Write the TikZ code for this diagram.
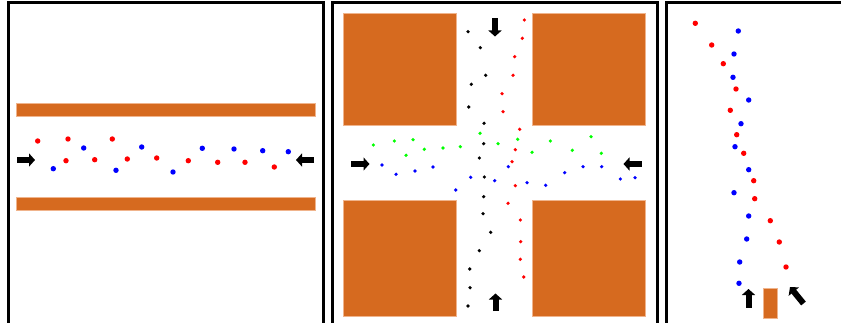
\documentclass[tikz,border=0pt]{standalone}
\usetikzlibrary{arrows.meta}
\definecolor{wall}{RGB}{214,106,31}
\definecolor{wallb}{RGB}{240,180,140}
\definecolor{dred}{RGB}{255,0,0}
\definecolor{dblue}{RGB}{0,0,255}
\definecolor{dgreen}{RGB}{0,255,0}
\tikzset{
  frame/.style={line width=3pt, line cap=butt, line join=miter},
  wallbox/.style={fill=wall, draw=wallb, line width=0.8pt},
  blockarrow/.style={line width=6pt, -{Triangle[length=6pt,width=13pt]}},
  bigdot/.style={radius=2.7pt},
  smalldot/.style={radius=1.8pt},
}
\begin{document}
\begin{tikzpicture}[x=1pt,y=-1pt]
\useasboundingbox (0,0) rectangle (841,323);
\fill[white] (0,0) rectangle (841,323);
% frames
\draw[frame] (8.5,324) -- (8.5,3) -- (323,3) -- (323,324);
\draw[frame] (332,324) -- (332,3) -- (657,3) -- (657,324);
\draw[frame] (666,324) -- (666,3) -- (842,3);

% ---------- panel 1 ----------
\draw[wallbox] (16,103) rectangle (315,116);
\draw[wallbox] (16,197.5) rectangle (315,210.5);
\coordinate (a1t) at (17,160); \coordinate (a1h) at (35,160);
\coordinate (a2t) at (314,160); \coordinate (a2h) at (296,160);
\draw[blockarrow] (a1t) -- (a1h);
\draw[blockarrow] (a2t) -- (a2h);
\foreach \x/\y in {37.7/141,68/139,112.3/139,66/160.7,94.7/159.7,127.3/159,156.7/158,188.3/160.7,217.7/162.3,245/162.3,274.3/167}
  \fill[dred] (\x,\y) circle[bigdot];
\foreach \x/\y in {53.3/168.7,83.7/148,116/170.3,141.7/147,173/172,202.3/148.3,234/149,262.7/150.7,288.3/151.7}
  \fill[dblue] (\x,\y) circle[bigdot];

% ---------- panel 2 ----------
\draw[wallbox] (343.3,13.3) rectangle (456.7,125.7);
\draw[wallbox] (532,13.3) rectangle (645.7,125.7);
\draw[wallbox] (343.3,200.3) rectangle (456.7,316);
\draw[wallbox] (532,200.3) rectangle (645.7,316);
\coordinate (b1t) at (495,18.5); \coordinate (b1h) at (495,36.5);
\coordinate (b2t) at (495.5,311) ; \coordinate (b2h) at (495.5,293.5);
\coordinate (b3t) at (351,164); \coordinate (b3h) at (369.5,164);
\coordinate (b4t) at (641.5,164); \coordinate (b4h) at (623.5,164);
\draw[blockarrow] (b1t) -- (b1h);
\draw[blockarrow] (b2t) -- (b2h);
\draw[blockarrow] (b3t) -- (b3h);
\draw[blockarrow] (b4t) -- (b4h);
\foreach \x/\y in {468/31.7,480.3/47.7,485.7/75.3,471.3/84.3,468.7/107,484/123.3,483.7/143.7,479.3/158,484.3/177,483.7/196.7,483/213.7,490.7/232.3,479.3/250.7,469.7/269,470/287.7,468/306}
  \fill[black] (\x,\y) circle[smalldot];
\foreach \x/\y in {524.3/20,522.3/38.3,514.7/56.7,513/75.3,502/93.7,503/111.7,519.7/129.3,515.3/149.7,512/161.7,515.3/185.7,508/203.3,520.3/220,520.7/241.7,520.3/259.3,523.7/277}
  \fill[dred] (\x,\y) circle[smalldot];
\foreach \x/\y in {373.3/145,394.3/141,413/139.7,406/155.3,424.3/149.3,443/148,460.3/146.7,480/133.3,498/143.7,517.7/139.3,532/152.3,550.3/141,572.3/150.3,591/136.7,601.3/153.3}
  \fill[dgreen] (\x,\y) circle[smalldot];
\foreach \x/\y in {382/165,396/174.3,415/171,433/167,455.7/190,470.7/177.3,494.7/180.7,508.3/166.7,527/182.7,545.7/185.3,564.7/172.7,583/166.7,601.7/166.7,620.3/179,635/177.7}
  \fill[dblue] (\x,\y) circle[smalldot];

% ---------- panel 3 ----------
\draw[wallbox] (763.3,288.3) rectangle (777.3,318);
\coordinate (c1t) at (748.5,307.5); \coordinate (c1h) at (748.5,289);
\coordinate (c2t) at (803.5,303.5); \coordinate (c2h) at (790,287);
\draw[blockarrow] (c1t) -- (c1h);
\draw[blockarrow] (c2t) -- (c2h);
\foreach \x/\y in {695.3/23.3,711.7/45,723.3/63.7,736/89,730.3/110.3,736.7/134.7,743.7/153.3,753.7/180.7,754.7/198.7,770.3/220.7,779.3/242,786/267}
  \fill[dred] (\x,\y) circle[bigdot];
\foreach \x/\y in {738.3/31,734/54,733/77.3,748.7/100,741/123.7,735/146.7,748.7/169.7,734/192.7,748.7/216,746.7/239,739.7/262,739/283.3}
  \fill[dblue] (\x,\y) circle[bigdot];
\end{tikzpicture}
\end{document}
